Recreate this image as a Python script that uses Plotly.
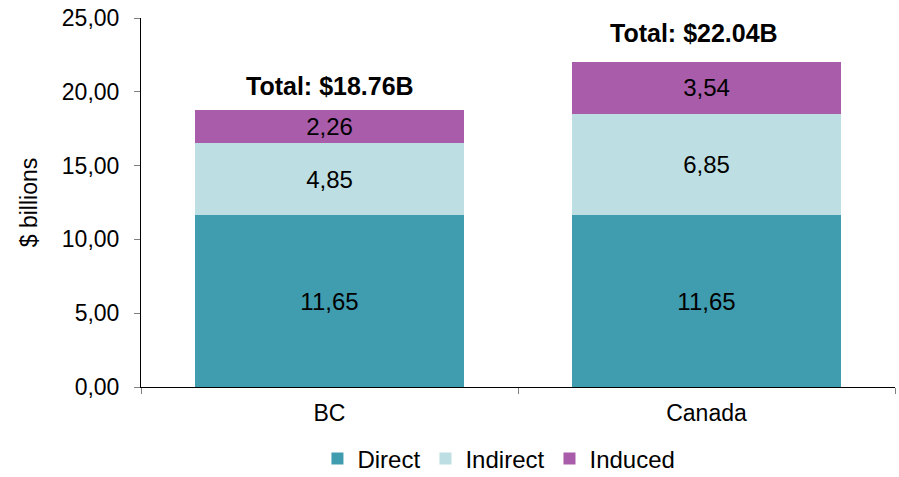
import plotly.graph_objects as go

categories = ["BC", "Canada"]
direct = [11.65, 11.65]
indirect = [4.85, 6.85]
induced = [2.26, 3.54]
totals = [18.76, 22.04]
total_labels = ["Total: $18.76B", "Total: $22.04B"]
y_ticks = [0, 5, 10, 15, 20, 25]

FONT = "Liberation Sans, Arial, sans-serif"
fig = go.Figure()
series = [("Direct", direct, "#409DAF"), ("Indirect", indirect, "#BDDFE3"), ("Induced", induced, "#A95CA9")]
for name, vals, col in series:
    fig.add_trace(go.Bar(
        x=categories, y=vals, name=name, marker=dict(color=col, line=dict(width=0)),
        texttemplate="%{y:.2f}", textposition="inside", insidetextanchor="middle",
        textfont=dict(family=FONT, size=24, color="black"), textangle=0,
        constraintext="none",
    ))

for i, (c, t, lab) in enumerate(zip(categories, totals, total_labels)):
    fig.add_annotation(x=c, y=t, text="<b>" + lab + "</b>", showarrow=False,
                       yanchor="bottom", yshift=(13 if i == 1 else 8),
                       xshift=(-13 if i == 1 else 0),
                       font=dict(family=FONT, size=25, color="black"))

fig.update_layout(
    barmode="stack", bargap=0.286,
    separators=",.",
    width=899, height=477,
    margin=dict(l=141, r=4, t=18, b=90, autoexpand=False),
    plot_bgcolor="white", paper_bgcolor="white",
    font=dict(family=FONT, size=23, color="black"),
    showlegend=True,
    legend=dict(orientation="h", xref="container", yref="container",
                x=0.555, xanchor="center", y=0.038, yanchor="middle",
                font=dict(family=FONT, size=24), traceorder="normal"),
    xaxis=dict(showline=True, linecolor="black", linewidth=1, ticks="outside",
               tickson="boundaries", ticklen=6, tickcolor="#808080",
               ticklabelstandoff=5,
               tickfont=dict(family=FONT, size=23), showgrid=False, automargin=False),
    yaxis=dict(range=[0, 25], tickvals=y_ticks, tickformat=".2f", showline=True,
               linecolor="black", linewidth=1, ticks="outside", ticklen=6,
               tickcolor="#808080", showgrid=False, zeroline=False, automargin=False,
               ticklabelstandoff=10,
               tickfont=dict(family=FONT, size=23),
               title=dict(text="$ billions", font=dict(family=FONT, size=23), standoff=17)),
)
fig.write_html("out.html", config={"displayModeBar": False},
               post_script="document.body.style.margin='0';document.body.style.overflow='hidden';")
